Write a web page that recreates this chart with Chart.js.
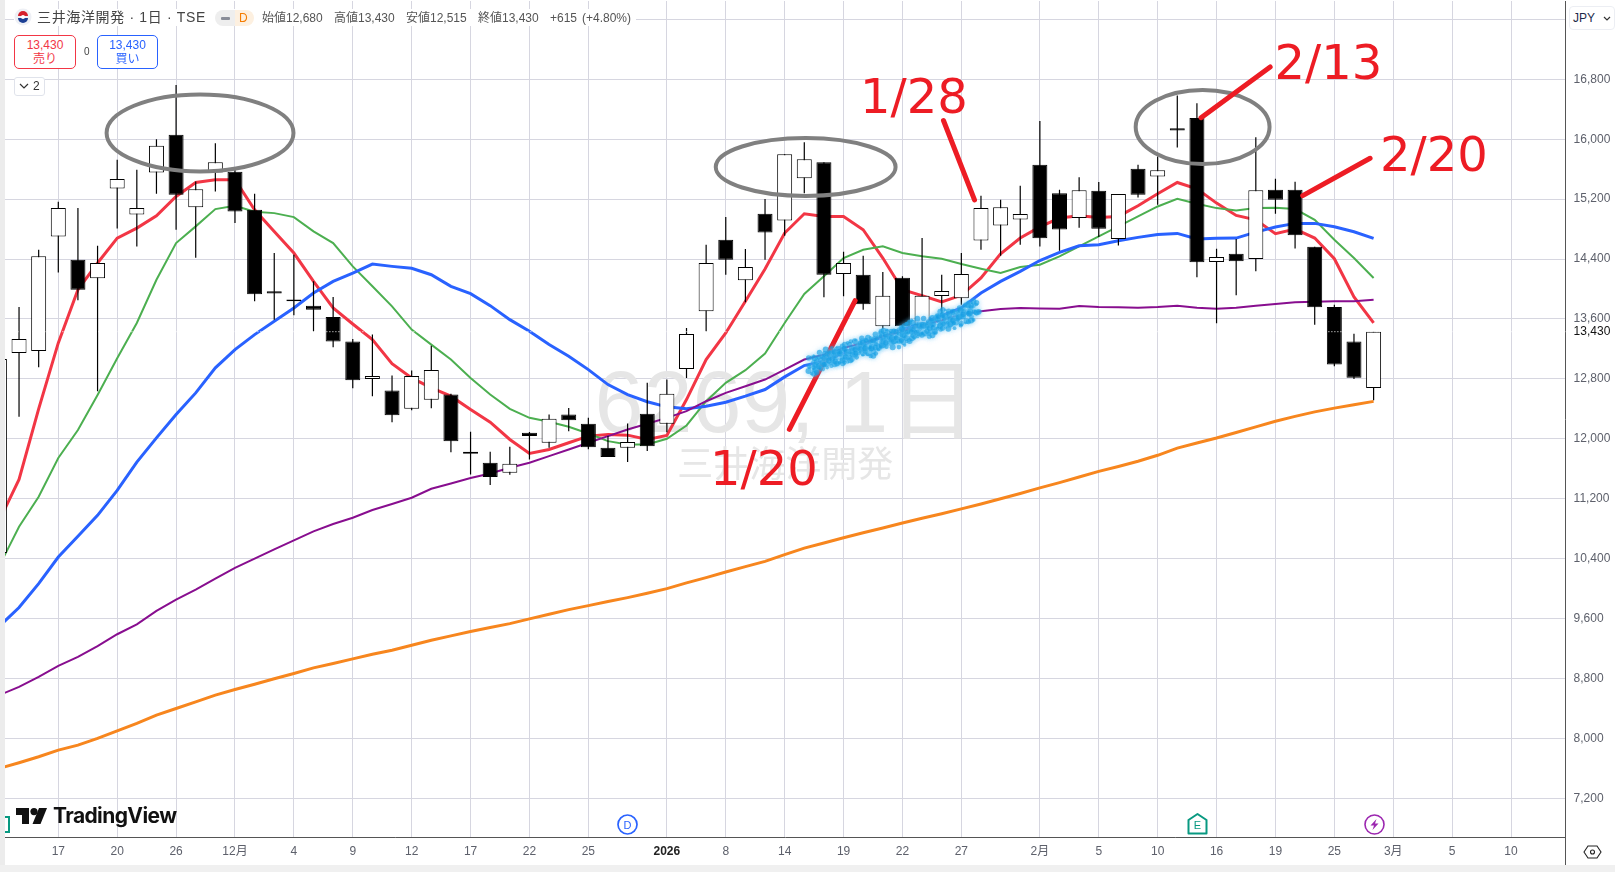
<!DOCTYPE html>
<html lang="ja">
<head>
<meta charset="utf-8">
<title>三井海洋開発 1日</title>
<script src="https://cdn.jsdelivr.net/npm/chart.js@4/dist/chart.umd.min.js"></script>
<style>
  html, body { margin: 0; padding: 0; background: #fff; }
  body { width: 1615px; height: 872px; overflow: hidden; position: relative;
         font-family: "Liberation Sans", "Noto Sans CJK JP", sans-serif; }
  canvas { position: absolute; left: 0; top: 0; }
  .ui { position: absolute; white-space: nowrap; }
  .box { box-sizing: border-box; border: 1px solid; border-radius: 5px; background: #fff;
         text-align: center; font-size: 12px; line-height: 14px; padding-top: 2px; }
  .hdr { font-size: 12px; color: #555; top: 10px; line-height: 16px; }
</style>
</head>
<body>
<canvas id="myChart" width="1615" height="872"></canvas>

<!-- frame -->
<div class="ui" style="left:0;top:0;width:5px;height:872px;background:#ececec"></div>
<div class="ui" style="left:0;top:865px;width:1615px;height:7px;background:#f0f0f0"></div>
<div class="ui" style="left:1565px;top:837px;width:1px;height:28px;background:#555"></div>

<!-- header -->
<div class="ui" style="left:14px;top:9px;width:622px;height:17px;background:#fff"></div>
<svg class="ui" style="left:14px;top:8px" width="18" height="18" viewBox="0 0 18 18">
  <circle cx="9" cy="9" r="8.5" fill="#eef0f5"/>
  <path d="M4 8a5 5 0 0 1 10 0z" fill="#d6202c"/>
  <path d="M4 10a5 5 0 0 0 10 0z" fill="#1c3f94"/>
  <circle cx="9" cy="9" r="2" fill="#fff"/>
</svg>
<div class="ui" style="left:37px;top:8px;font-size:14px;line-height:18px;letter-spacing:0.65px;color:#444">三井海洋開発 · 1日 · TSE</div>
<div class="ui" style="left:215px;top:10px;width:20px;height:16px;background:#eeeeee;border-radius:8px 0 0 8px"></div>
<div class="ui" style="left:235px;top:10px;width:19px;height:16px;background:#fdf0e0;border-radius:0 8px 8px 0"></div>
<div class="ui" style="left:221px;top:16.5px;width:9px;height:3px;background:#8a8e99;border-radius:1px"></div>
<div class="ui" style="left:239px;top:10px;font-size:12px;line-height:16px;color:#f57c00">D</div>
<div class="ui hdr" style="left:262px">始値12,680</div>
<div class="ui hdr" style="left:334px">高値13,430</div>
<div class="ui hdr" style="left:406px">安値12,515</div>
<div class="ui hdr" style="left:478px">終値13,430</div>
<div class="ui hdr" style="left:550px">+615</div>
<div class="ui hdr" style="left:582px">(+4.80%)</div>

<!-- buy / sell -->
<div class="ui box" style="left:14px;top:35px;width:62px;height:34px;border-color:#f23645;color:#f23645">13,430<br>売り</div>
<div class="ui" style="left:84px;top:45px;font-size:10px;line-height:13px;color:#444">0</div>
<div class="ui box" style="left:97px;top:35px;width:61px;height:34px;border-color:#2962ff;color:#2962ff">13,430<br>買い</div>
<div class="ui" style="left:14px;top:77px;width:31px;height:19px;box-sizing:border-box;border:1px solid #e0e3eb;border-radius:3px;background:#fff"></div>
<svg class="ui" style="left:19px;top:83px" width="10" height="7"><path d="M1 1l4 4 4-4" fill="none" stroke="#333" stroke-width="1.2"/></svg>
<div class="ui" style="left:33px;top:79px;font-size:12px;line-height:15px;color:#333">2</div>

<!-- currency -->
<div class="ui" style="left:1569px;top:6px;width:46px;height:24px;box-sizing:border-box;border:1px solid #eceef3;border-radius:4px;background:#fff"></div>
<div class="ui" style="left:1573px;top:10px;font-size:12px;line-height:16px;color:#1c2a4a">JPY</div>
<svg class="ui" style="left:1603px;top:16px" width="8" height="6"><path d="M1 1l3 3 3-3" fill="none" stroke="#333" stroke-width="1.2"/></svg>

<!-- logo -->
<svg class="ui" style="left:16px;top:808px" width="32" height="16" viewBox="0 0 32 16">
  <path d="M0 0h13v16H6V7H0z" fill="#111"/>
  <circle cx="18" cy="3.6" r="3.6" fill="#111"/>
  <path d="M23 0h8l-6.5 16h-8z" fill="#111"/>
</svg>
<div class="ui" style="left:53px;top:803px;font-size:21px;line-height:26px;font-weight:bold;letter-spacing:-0.6px;color:#111;font-family:Inter,'Liberation Sans'">TradingView</div>

<!-- events -->
<svg class="ui" style="left:5px;top:815px" width="6" height="20"><path d="M0 2h4v15H0" fill="none" stroke="#089981" stroke-width="2"/></svg>
<svg class="ui" style="left:616px;top:813px" width="23" height="23">
  <circle cx="11.5" cy="11.5" r="9.5" fill="#fff" stroke="#2962ff" stroke-width="1.7"/>
  <text x="11.5" y="15.5" text-anchor="middle" font-size="11" fill="#2962ff">D</text>
</svg>
<svg class="ui" style="left:1186px;top:812px" width="23" height="24">
  <path d="M2.5 8L11.5 2l9 6v13.500h-18z" fill="#fff" stroke="#089981" stroke-width="2" stroke-linejoin="round"/>
  <text x="11.5" y="17" text-anchor="middle" font-size="11" fill="#089981">E</text>
</svg>
<svg class="ui" style="left:1363px;top:813px" width="23" height="23">
  <circle cx="11.5" cy="11.5" r="9.500" fill="#fff" stroke="#9c27b0" stroke-width="1.6"/>
  <path d="M13.5 6l-6 6.500h3.500L9.500 17l6-6.500H12z" fill="#9c27b0"/>
</svg>
<!-- settings -->
<svg class="ui" style="left:1583px;top:845px" width="19" height="14">
  <path d="M1 7l4-6h9l4 6-4 6H5z" fill="none" stroke="#222" stroke-width="1.1"/>
  <circle cx="9.500" cy="7" r="2" fill="none" stroke="#222" stroke-width="1.1"/>
</svg>

<script>
// 取引日（先頭は 2025/11/12）
const sessions = [
  "11/12","11/13","11/14","11/17","11/18","11/19","11/20","11/21","11/25","11/26","11/27","11/28",
  "12/1","12/2","12/3","12/4","12/5","12/8","12/9","12/10","12/11","12/12","12/15","12/16","12/17",
  "12/18","12/19","12/22","12/23","12/24","12/25","12/26","12/29","12/30",
  "1/5","1/6","1/7","1/8","1/9","1/13","1/14","1/15","1/16","1/19","1/20","1/21","1/22","1/23",
  "1/26","1/27","1/28","1/29","1/30",
  "2/2","2/3","2/4","2/5","2/6","2/9","2/10","2/12","2/13","2/16","2/17","2/18","2/19","2/20",
  "2/24","2/25","2/26","2/27",
];

const opens = [
  10476,13147,13173,14702,14391,14142,15342,14996,15556,16058,15093,15556,15565,15058,13970,13860,13778,13627,13298,
  12800,12644,12400,12520,12591,11800,11680,11547,12080,11947,12324,12200,11880,11880,12333,12200,12933,13702,14658,
  14116,15004,14916,15480,15693,14200,14191,13502,14151,13520,13907,13876,14649,14849,14929,15658,15280,14947,15311,
  14667,15604,15502,16145,16284,14360,14471,14400,15324,15324,14564,13760,13298,12680,
];
const highs = [
  13067,13760,14525,15165,15080,14578,15724,15591,16000,16724,15436,15947,15600,15271,14480,14458,14102,13893,13333,
  13391,12844,12911,13244,12600,12093,11827,11893,12090,12324,12413,12280,12036,12205,12747,12791,13480,14591,14960,
  14533,15200,15800,15960,15693,14498,14444,14227,14169,14680,14191,14480,15244,15191,15378,16244,15324,15493,15427,
  15267,15658,15769,16582,16480,14538,14667,16027,15471,15431,14564,13791,13404,13430,
];
const lows = [
  10476,12293,12956,14222,13849,12636,14809,14569,15271,14791,14418,15302,14880,13836,13591,13649,13436,13222,12676,
  12569,12222,12382,12409,11822,11525,11382,11520,11725,11880,12102,11860,11756,11689,11836,12089,12813,13436,14191,
  13822,14391,14711,15280,13889,13902,13724,13471,13480,13520,13667,13791,14524,14444,14591,14569,14511,14818,14693,
  14582,15222,15124,15889,14156,13542,13916,14236,15004,14542,13524,12969,12800,12515,
];
const closes = [
  13067,13333,14436,15080,13991,14347,15467,15080,15911,15258,15333,15693,15036,13929,13940,13835,13724,13298,12782,
  12840,12316,12840,12920,11969,11827,11489,11667,12036,12267,12249,11889,11756,11956,11902,12600,13400,14347,14391,
  14293,14756,15800,15733,14191,14347,13796,13911,13502,13911,13973,14200,15080,15093,15000,14676,14796,15320,14804,
  15267,15258,15587,16115,14356,14427,14369,15320,15191,14716,13756,12991,12815,13430,
];

// 移動平均線
const maRed = [
  10913,11458,12400,13280,13991,14347,14680,14813,14978,15236,15422,15458,15458,15058,14769,14480,14102,13747,13533,
  13324,13004,12813,12680,12569,12391,12222,11991,11805,11858,11947,12036,12058,12049,11991,12044,12524,13058,13413,
  13836,14267,14747,15004,14969,14969,14791,14413,13991,13911,13827,13916,14147,14471,14680,14830,14947,14978,14956,
  14969,15111,15271,15422,15338,15147,14982,14924,14738,14800,14680,14404,13893,13547,
];
const maGreen = [
  10306,10826,11227,11744,12118,12585,13075,13546,14124,14613,14836,15067,15111,15031,15013,14960,14769,14613,14302,
  14036,13769,13458,13258,13058,12813,12591,12400,12280,12227,12160,12071,11969,11924,11925,12000,12178,12502,12747,
  12916,13138,13547,13933,14169,14413,14524,14569,14480,14436,14404,14333,14271,14213,14293,14324,14436,14569,14702,
  14836,14969,15102,15204,15138,15080,15049,15080,15084,15067,14924,14658,14413,14147,
];
const maBlue = [
  9498,9747,10067,10422,10698,10978,11311,11689,12013,12324,12613,12947,13191,13391,13569,13747,13947,14102,14213,
  14333,14302,14276,14191,14036,13938,13778,13591,13436,13258,13102,12924,12724,12591,12495,12427,12400,12436,12489,
  12569,12658,12827,12978,13036,13147,13258,13360,13458,13547,13644,13747,13947,14102,14236,14380,14489,14578,14591,
  14644,14689,14729,14742,14667,14676,14680,14760,14827,14876,14876,14831,14764,14676,
];
const maPurple = [
  8578,8689,8822,8969,9089,9231,9391,9524,9702,9853,9987,10133,10276,10400,10524,10644,10764,10862,10947,
  11050,11130,11213,11333,11404,11476,11538,11613,11680,11769,11858,11947,12036,12125,12200,12280,12369,12502,12613,
  12702,12791,12924,13058,13124,13213,13280,13369,13436,13516,13582,13658,13702,13733,13747,13740,13738,13773,13760,
  13756,13751,13760,13778,13751,13738,13751,13778,13800,13822,13831,13836,13836,13858,
];
const maOrange = [
  7600,7676,7756,7844,7911,8000,8102,8200,8311,8400,8489,8578,8653,8724,8796,8867,8942,9000,9062,
  9124,9178,9244,9311,9369,9427,9480,9533,9596,9658,9720,9773,9827,9880,9938,10000,10076,10147,10222,
  10293,10364,10453,10540,10610,10680,10745,10810,10875,10940,11000,11065,11130,11200,11270,11345,11415,11490,11565,
  11630,11700,11780,11875,11945,12010,12085,12160,12235,12300,12360,12410,12455,12500,
];

const lastClose = 13430;

// 軸の目盛
const dateTickPositions = [3,6,9,12,15,18,21,24,27,30,34,37,40,43,46,49,53,56,59,62,65,68,71,74,77];
const dateTickLabels = ["17","20","26","12月","4","9","12","17","22","25","2026","8","14","19","22","27","2月","5","10","16","19","25","3月","5","10"];
const priceTicks = [7200,8000,8800,9600,10400,11200,12000,12800,13430,13600,14400,15200,16000,16800,17600];

// 手書きの注釈（x は取引日の番号、y は株価）
const noteOvals = [
  [10.22, 16083, 4.76, 514],
  [41.07, 15629, 4.58, 387],
  [61.29, 16163, 3.41, 494],
];
const noteStrokes = [
  [40.24, 12127, 43.59, 13844],
  [48.09, 16250, 49.67, 15189],
  [61.21, 16287, 64.73, 16964],
  [66.39, 15246, 69.82, 15745],
];
const noteTexts = [
  ["1/20", 36.2, 11383],
  ["1/28", 43.84, 16350],
  ["2/13", 64.95, 16797],
  ["2/20", 70.33, 15580],
];
const noteScribble = [41.3, 12986, 49.78, 13720];

const watermarkCode = "6269, 1日";
const watermarkName = "三井海洋開発";

const gridColor = "#d6d6e0";
const axisColor = "#555555";
const labelColor = "#5d606b";
const fontFamily = '"Liberation Sans", "Noto Sans CJK JP", sans-serif';

// 配列番号を x にした点列へ変換
function toPoints(values) {
  return values.map((v, i) => ({ x: i, y: v }));
}

function toRange(a, b) {
  return a.map((v, i) => ({ x: i, y: [v, b[i]] }));
}

function maDataset(values, color, width) {
  return {
    type: "line",
    data: toPoints(values),
    borderColor: color,
    borderWidth: width,
    pointRadius: 0,
    tension: 0,
    order: 10,
  };
}

function isYearTick(ctx) {
  return !!ctx.tick && dateTickLabels[dateTickPositions.indexOf(ctx.tick.value)] === "2026";
}

function isLastTick(ctx) {
  return !!ctx.tick && ctx.tick.value === lastClose;
}

// ウォーターマーク（ローソク足の下）
const watermarkPlugin = {
  id: "watermark",
  beforeDatasetsDraw(chart) {
    const { ctx, chartArea } = chart;
    const cx = (chartArea.left + chartArea.right) / 2;
    ctx.save();
    ctx.fillStyle = "#e6e6e6";
    ctx.textAlign = "center";
    ctx.textBaseline = "alphabetic";
    ctx.font = "88px " + fontFamily;
    ctx.fillText(watermarkCode, cx, 432);
    ctx.font = "36px " + fontFamily;
    ctx.fillText(watermarkName, cx, 477);
    ctx.restore();
  },
};

// 手書きの楕円・線・文字
const notesPlugin = {
  id: "notes",
  afterDatasetsDraw(chart) {
    const { ctx, scales } = chart;
    const px = (v) => scales.x.getPixelForValue(v);
    const py = (v) => scales.y.getPixelForValue(v);
    ctx.save();

    ctx.strokeStyle = "#808080";
    ctx.lineWidth = 4;
    noteOvals.forEach(([x, y, rx, ry]) => {
      ctx.beginPath();
      ctx.ellipse(px(x), py(y), Math.abs(px(x + rx) - px(x)), Math.abs(py(y + ry) - py(y)), 0, 0, Math.PI * 2);
      ctx.stroke();
    });

    ctx.strokeStyle = "#ed1c24";
    ctx.lineWidth = 5;
    ctx.lineCap = "round";
    noteStrokes.forEach(([x1, y1, x2, y2]) => {
      ctx.beginPath();
      ctx.moveTo(px(x1), py(y1));
      ctx.lineTo(px(x2), py(y2));
      ctx.stroke();
    });

    // 青いスプレー
    const [sx1, sy1, sx2, sy2] = noteScribble;
    const count = 420;
    ctx.fillStyle = "rgba(14,156,226,0.62)";
    ctx.shadowColor = "rgba(110,200,245,0.9)";
    ctx.shadowBlur = 5;
    for (let i = 0; i <= count; i++) {
      const t = i / count;
      const wob = Math.sin(i * 1.73) * 6.5 + Math.sin(i * 0.61) * 3.5 + Math.sin(i * 0.09) * 1.5;
      const x = px(sx1) + (px(sx2) - px(sx1)) * t + Math.sin(i * 2.9) * 4;
      const y = py(sy1) + (py(sy2) - py(sy1)) * t + wob;
      ctx.beginPath();
      ctx.arc(x, y, 1.2 + 1.8 * Math.abs(Math.sin(i * 0.37)), 0, Math.PI * 2);
      ctx.fill();
    }
    ctx.shadowBlur = 0;

    ctx.fillStyle = "#ed1c24";
    ctx.font = '48px "DejaVu Sans", sans-serif';
    ctx.textBaseline = "alphabetic";
    noteTexts.forEach(([s, x, y]) => ctx.fillText(s, px(x), py(y)));
    ctx.restore();
  },
};

const config = {
  data: {
    datasets: [
      maDataset(maOrange, "#f7861e", 3),
      maDataset(maPurple, "#880e8f", 2),
      maDataset(maBlue, "#2962ff", 3),
      maDataset(maGreen, "#4caf50", 2),
      maDataset(maRed, "#f23645", 3),
      // ひげ
      {
        type: "bar",
        data: toRange(lows, highs),
        backgroundColor: "#000000",
        borderWidth: 0,
        barThickness: 1.2,
        inflateAmount: 0,
        grouped: false,
        order: 6,
      },
      // 実体
      {
        type: "bar",
        data: toRange(opens, closes),
        backgroundColor: (ctx) => (closes[ctx.dataIndex] >= opens[ctx.dataIndex] ? "#ffffff" : "#000000"),
        borderColor: "#000000",
        borderWidth: 1,
        borderSkipped: false,
        barThickness: 15,
        inflateAmount: 0,
        grouped: false,
        order: 5,
      },
      // 現在値ライン
      {
        type: "line",
        data: [{ x: 0, y: lastClose }, { x: 80, y: lastClose }],
        borderColor: "#ffffff",
        borderWidth: 1,
        borderDash: [1, 2],
        pointRadius: 0,
        order: 4,
      },
    ],
  },
  options: {
    responsive: false,
    animation: false,
    devicePixelRatio: 1,
    layout: { padding: { left: 5, top: 1, right: 0, bottom: 6 } },
    plugins: {
      legend: { display: false },
      tooltip: { enabled: false },
    },
    scales: {
      x: {
        type: "linear",
        offset: false,
        min: 0.285,
        max: 79.78,
        afterBuildTicks: (scale) => {
          scale.ticks = dateTickPositions.map((v) => ({ value: v }));
        },
        afterFit: (scale) => {
          scale.height = 28.7;
          scale.paddingLeft = 0;
          scale.paddingRight = 0;
        },
        grid: { color: gridColor, lineWidth: 1, drawTicks: false, offset: false },
        border: { color: axisColor, width: 1 },
        ticks: {
          autoSkip: false,
          maxRotation: 0,
          padding: 7,
          color: (ctx) => (isYearTick(ctx) ? "#222" : labelColor),
          font: (ctx) => ({ family: fontFamily, size: 12, weight: isYearTick(ctx) ? "bold" : "normal" }),
          callback: (value) => dateTickLabels[dateTickPositions.indexOf(value)],
        },
      },
      y: {
        type: "linear",
        position: "right",
        min: 6680,
        max: 17845,
        afterBuildTicks: (scale) => {
          scale.ticks = priceTicks.map((v) => ({ value: v }));
        },
        afterFit: (scale) => {
          scale.width = 49.4;
          scale.paddingTop = 0;
          scale.paddingBottom = 0;
        },
        grid: {
          color: (ctx) => (isLastTick(ctx) ? "rgba(0,0,0,0)" : gridColor),
          lineWidth: 1,
          drawTicks: false,
        },
        border: { color: axisColor, width: 1 },
        ticks: {
          autoSkip: false,
          padding: 8,
          color: (ctx) => (isLastTick(ctx) ? "#111" : labelColor),
          font: { family: fontFamily, size: 12 },
          callback: (value) => (value === 17600 ? "" : value.toLocaleString("en-US")),
        },
      },
    },
  },
  plugins: [watermarkPlugin, notesPlugin],
};

window.onload = function () {
  const ctx = document.getElementById("myChart").getContext("2d");
  window.myChart = new Chart(ctx, config);
};
</script>
</body>
</html>
